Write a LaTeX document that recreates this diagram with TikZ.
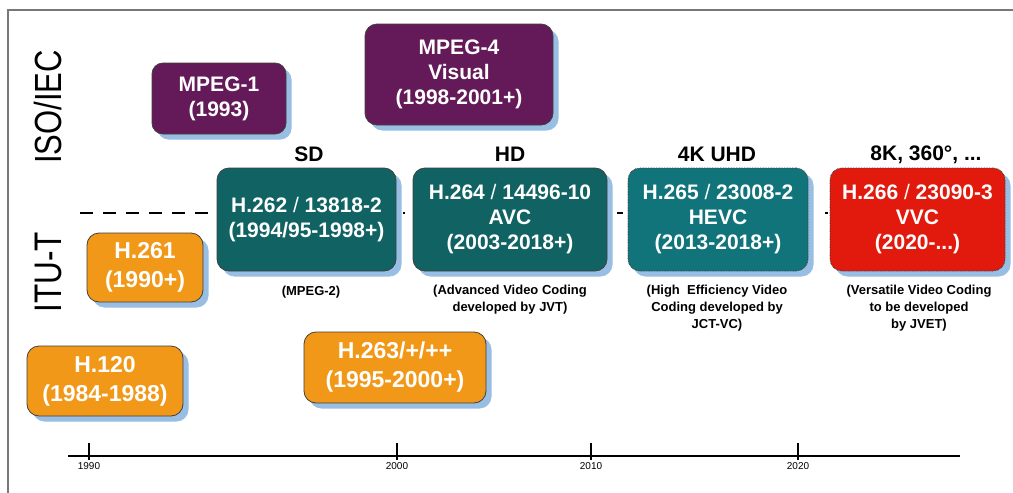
\documentclass[tikz,border=0pt]{standalone}
\usepackage{fontspec}
\setmainfont{Liberation Sans}
\usetikzlibrary{shadows,calc}
\definecolor{mpurple}{RGB}{100,26,88}
\definecolor{tealdark}{RGB}{17,99,99}
\definecolor{tealmid}{RGB}{16,116,122}
\definecolor{vvcred}{RGB}{226,26,14}
\definecolor{orng}{RGB}{242,152,24}
\definecolor{shadowblue}{RGB}{152,190,228}
\definecolor{framegray}{RGB}{120,120,120}
\begin{document}
\begin{tikzpicture}[x=1pt,y=-1pt,
  box/.style={rounded corners=12pt, draw=black!75, line width=0.8pt, text=white,
    align=center, inner sep=0pt,
    drop shadow={shadow xshift=5.5pt,shadow yshift=-5.5pt,fill=shadowblue,opacity=1}},
  dotbox/.style={box, dash pattern=on 0.8pt off 0.8pt},
  midfont/.style={font={\fontsize{21}{25}\selectfont\bfseries}},
  bigfont/.style={font={\fontsize{23}{29}\selectfont\bfseries}},
  toplabel/.style={font={\fontsize{21}{25}\selectfont\bfseries}, inner sep=0pt},
  note/.style={font={\fontsize{13}{17}\selectfont\bfseries}, align=center, inner sep=0pt},
  side/.style={rotate=90, inner sep=0pt},
  yearlab/.style={font={\fontsize{10}{12}\selectfont}, inner sep=0pt},
  dashline/.style={line width=2.6pt, dash pattern=on 13pt off 10pt},
  gapdash/.style={line width=2.6pt},
  axis/.style={line width=2pt},
  tick/.style={line width=2pt}]
\useasboundingbox (0,0) rectangle (1013,493);
\fill[white] (0,0) rectangle (1013,493);

% frame
\draw[framegray, line width=1.6pt] (1013,10) -- (8,10) -- (8,493);

% side labels
\node[side] (iso) at (48,107) {\scalebox{1}[1.22]{\fontsize{31}{31}\selectfont ISO/IEC}};
\node[side] (itu) at (48,272) {\scalebox{1}[1.22]{\fontsize{31.5}{31.5}\selectfont ITU-T}};

% dashed separator (behind boxes)
\coordinate (dstart) at (80,213);
\coordinate (dend) at (217,213);
\draw[dashline] (dstart) -- (dend);

% ISO boxes
\node[box, midfont, fill=mpurple, rounded corners=11pt, minimum width=134pt, minimum height=71pt] (mpeg1) at (219,98.5) {MPEG-1\\(1993)};
\node[box, midfont, fill=mpurple, minimum width=188pt, minimum height=101pt] (mpeg4) at (459,74.5) {MPEG-4\\Visual\\(1998-2001+)};

% joint boxes
\node[box, midfont, fill=tealdark, minimum width=179pt, minimum height=103pt] (h262) at (306.5,219.5) {H.262 {\mdseries/} 13818-2\\(1994/95-1998+)};
\node[box, midfont, fill=tealdark, minimum width=194pt, minimum height=103pt] (h264) at (510,219.5) {H.264 {\mdseries/} 14496-10\\AVC\\(2003-2018+)};
\node[dotbox, midfont, fill=tealmid, minimum width=180pt, minimum height=103pt] (h265) at (718,219.5) {H.265 {\mdseries/} 23008-2\\HEVC\\(2013-2018+)};
\node[dotbox, midfont, fill=vvcred, minimum width=175pt, minimum height=103pt] (h266) at (917.5,219.5) {H.266 {\mdseries/} 23090-3\\VVC\\(2020-...)};

% small dashes between boxes
\draw[gapdash, shorten <=7pt, shorten >=8pt] (h262.east |- dstart) -- (h264.west |- dstart);
\draw[gapdash, shorten <=10pt, shorten >=5pt] (h264.east |- dstart) -- (h265.west |- dstart);
\draw[gapdash, shorten <=17pt, shorten >=2pt] (h265.east |- dstart) -- (h266.west |- dstart);

% ITU boxes
\node[box, bigfont, fill=orng, minimum width=116pt, minimum height=69pt] (h261) at (145,267.5) {H.261\\(1990+)};
\node[box, bigfont, fill=orng, minimum width=156pt, minimum height=70pt] (h120) at (105,381) {H.120\\(1984-1988)};
\node[box, bigfont, fill=orng, minimum width=182pt, minimum height=71pt] (h263) at (395,367.5) {H.263/+/++\\(1995-2000+)};

% resolution labels
\node[toplabel] (sd) at (309,154) {SD};
\node[toplabel] (hd) at (510,154.5) {HD};
\node[toplabel] (uhd) at (717,154.5) {4K UHD};
\node[toplabel] (k8) at (926,154.5) {8K, 360°, ...};

% notes
\node[note] (n262) at (311,292) {(MPEG-2)};
\node[note] (n264) at (510,299.5) {(Advanced Video Coding\\developed by JVT)};
\node[note] (n265) at (717,308) {(High~~Efficiency Video\\Coding developed by\\JCT-VC)};
\node[note] (n266) at (919,308) {(Versatile Video Coding\\to be developed\\by JVET)};

% timeline
\coordinate (t0) at (68,456);
\coordinate (t1) at (960,456);
\draw[axis] (t0) -- (t1);
\foreach \xx/\yy in {89/1990,397/2000,591/2010,798/2020}{
  \draw[tick] (\xx,443) -- (\xx,460);
  \node[yearlab] (y\yy) at (\xx,466.5) {\yy};
}
\end{tikzpicture}
\end{document}
